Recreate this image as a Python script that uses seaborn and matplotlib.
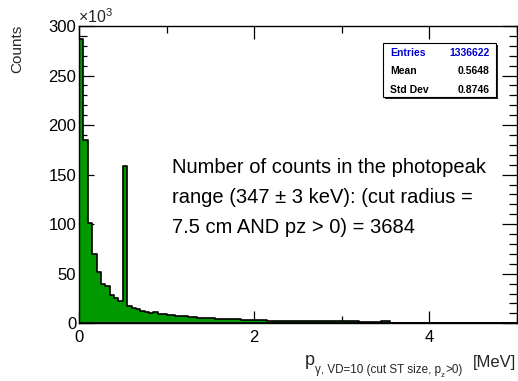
import numpy as np
import pandas as pd
import matplotlib
matplotlib.use("Agg")
import matplotlib.pyplot as plt
from matplotlib.patches import Rectangle
from matplotlib.ticker import MultipleLocator, FuncFormatter
import seaborn as sns

# Photon momentum spectrum, 0.05 MeV bins from 0 to 5 MeV
bin_width = 0.05
x_min, x_max = 0.0, 5.0
counts = [
    287000, 185000, 101500, 69500, 51500, 40000, 38000, 28500, 26000, 22500,
    158500, 17500, 15500, 14200, 12800, 11600, 10600, 10900, 9600, 9100,
    8700, 8200, 7800, 7300, 6900, 6500, 6100, 5800, 5500, 5200,
    5000, 4800, 4600, 4400, 4200, 4000, 3900, 3700, 3600, 3500,
    3400, 3400, 3300, 2600, 2500, 2500, 2400, 2400, 2300, 2300,
    2200, 2200, 2700, 2500, 2800, 2300, 2100, 2100, 2000, 2000,
    2000, 1900, 1900, 1900, 1800, 1800, 1800, 1700, 1700, 2000,
    1900, 800, 800, 800, 800, 750, 750, 750, 750, 700,
    700, 700, 700, 700, 650, 650, 650, 650, 650, 650,
    600, 600, 600, 600, 600, 600, 600, 600, 600, 600,
]

stat_names = ["Entries", "Mean", "Std Dev"]
stat_values = ["1336622", "0.5648", "0.8746"]

annotation_lines = [
    "Number of counts in the photopeak",
    "range (347 \u00b1 3 keV): (cut radius =",
    "7.5 cm AND pz > 0) = 3684",
]

n_bins = len(counts)
centers = x_min + bin_width * (np.arange(n_bins) + 0.5)
df = pd.DataFrame({"p": centers, "counts": counts})

sns.set_theme(style="ticks")
plt.rcParams["font.family"] = ["Liberation Sans", "DejaVu Sans"]
plt.rcParams["mathtext.fontset"] = "custom"
plt.rcParams["mathtext.rm"] = "Liberation Sans"
plt.rcParams["mathtext.it"] = "Liberation Sans:italic"

W, H = 518, 381
fig = plt.figure(figsize=(W / 100, H / 100), dpi=100)
fig.patch.set_facecolor("white")


def fx(x):
    return x / W


def fy(y):
    return 1 - y / H


left, right, top, bottom = 79, 516.7, 26, 323.3
ax = fig.add_axes([fx(left), fy(bottom), (right - left) / W, (bottom - top) / H])
ax.set_facecolor("white")

sns.histplot(
    data=df, x="p", weights="counts", bins=n_bins, binrange=(x_min, x_max),
    element="step", fill=True, color="#009900", alpha=1,
    edgecolor="black", linewidth=1.2, ax=ax,
)

ax.set_xlim(x_min, x_max)
ax.set_ylim(0, 300000)
ax.set_xlabel("")
ax.set_ylabel("")

for s in ax.spines.values():
    s.set_visible(True)
    s.set_color("black")
    s.set_linewidth(1.0)

ax.xaxis.set_major_locator(MultipleLocator(2))
ax.xaxis.set_minor_locator(MultipleLocator(1))
ax.yaxis.set_major_locator(MultipleLocator(50000))
ax.yaxis.set_minor_locator(MultipleLocator(10000))
ax.yaxis.set_major_formatter(FuncFormatter(lambda v, _: f"{v / 1000:.0f}"))
ax.xaxis.set_major_formatter(FuncFormatter(lambda v, _: f"{v:.0f}"))

ax.tick_params(axis="both", which="both", direction="in", top=True, right=True,
               color="black", width=0.9, labelsize=12, labelcolor="black")
ax.tick_params(axis="y", which="major", length=11, pad=2)
ax.tick_params(axis="y", which="minor", length=6)
ax.tick_params(axis="x", which="major", length=9, pad=5)
ax.tick_params(axis="x", which="minor", length=5)

# axis titles and exponent marker
fig.text(fx(78), fy(22.7), r"$\times10^{3}$", fontsize=11.5, ha="left", va="baseline")
fig.text(fx(17), fy(25), "Counts", fontsize=11, rotation=90, ha="center", va="top")
fig.text(fx(305), fy(365), "p", fontsize=13, ha="left", va="baseline")
fig.text(fx(516), fy(366.5), "[MeV]", fontsize=12, ha="right", va="baseline")

# subscript of the x title, laid out piece by piece
renderer = fig.canvas.get_renderer()
sub_pieces = [
    ("\u03b3, VD=10 (cut ST size, p", 8.4, 373.0),
    ("z", 5.6, 377.0),
    (">0)", 8.4, 373.0),
]
cursor = 315.0
for txt, size, base in sub_pieces:
    t = fig.text(fx(cursor), fy(base), txt, fontsize=size, ha="left", va="baseline")
    cursor += t.get_window_extent(renderer=renderer).width

# photopeak annotation
for i, line in enumerate(annotation_lines):
    fig.text(fx(172), fy(173 + 30 * i), line, fontsize=14.5, ha="left",
             va="baseline", color="black")

# statistics box with drop shadow
bx0, by0, bx1, by1 = 383, 43.3, 496, 96.7
shadow = Rectangle((fx(bx0 + 2), fy(by1 + 2)), (bx1 - bx0) / W, (by1 - by0) / H,
                   transform=fig.transFigure, facecolor="#222222",
                   edgecolor="none", zorder=5)
box = Rectangle((fx(bx0), fy(by1)), (bx1 - bx0) / W, (by1 - by0) / H,
                transform=fig.transFigure, facecolor="white",
                edgecolor="black", linewidth=0.8, zorder=6)
fig.add_artist(shadow)
fig.add_artist(box)
row_centers = [53.0, 71.3, 89.6]
for i, (name, val) in enumerate(zip(stat_names, stat_values)):
    c = "#0000cc" if i == 0 else "black"
    fig.text(fx(390), fy(row_centers[i]), name, fontsize=7.5, fontweight="bold",
             color=c, ha="left", va="center", zorder=7)
    fig.text(fx(489.5), fy(row_centers[i]), val, fontsize=7.5, fontweight="bold",
             color=c, ha="right", va="center", zorder=7)

fig.savefig("out.png", dpi=100, facecolor="white")
